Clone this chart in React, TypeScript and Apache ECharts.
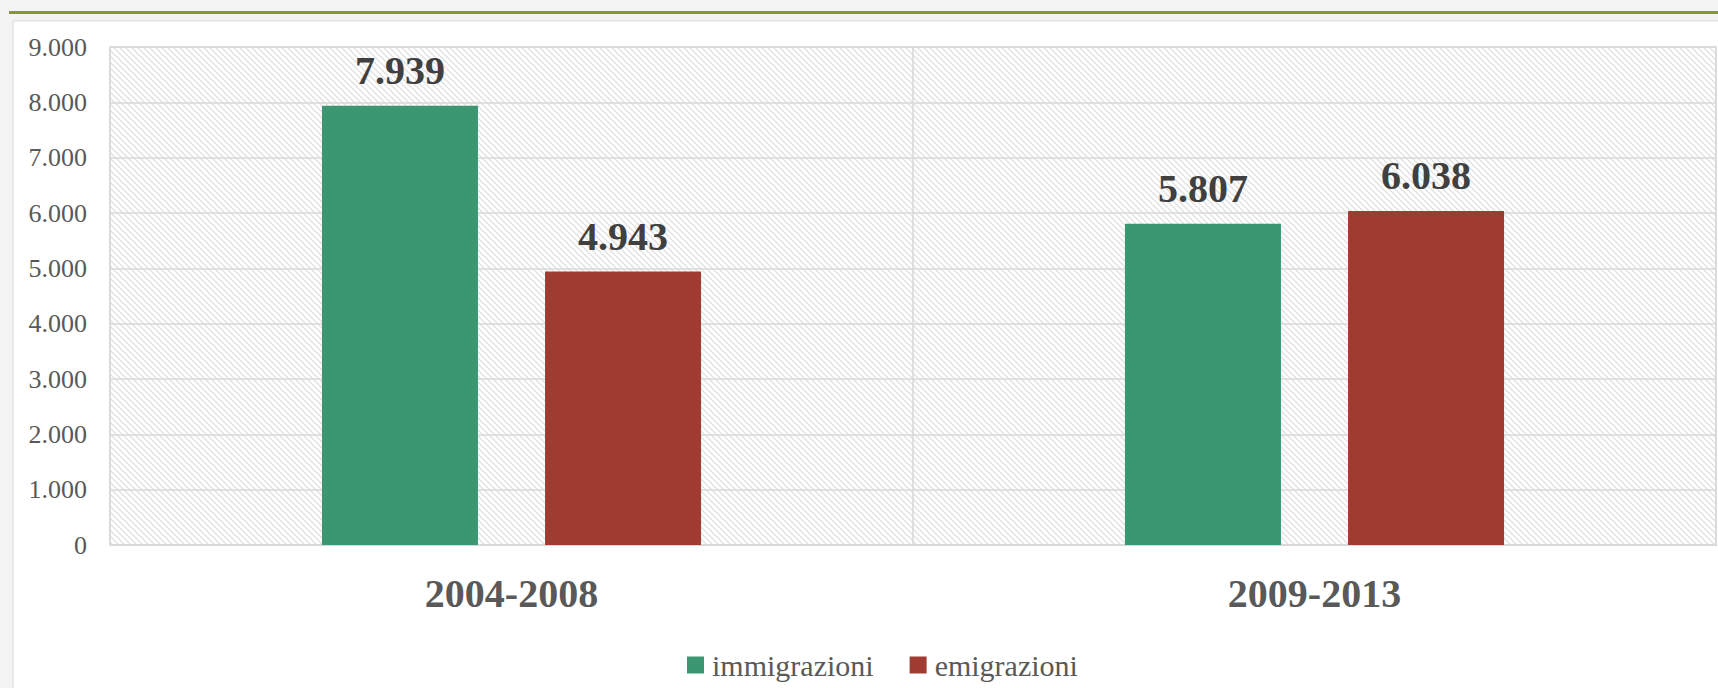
import React, { useEffect, useRef } from "react";
import * as echarts from "echarts";

const categories = ["2004-2008", "2009-2013"];
const immigrazioni = [7939, 5807];
const emigrazioni = [4943, 6038];
const seriesNames = ["immigrazioni", "emigrazioni"];
const yTicks = { min: 0, max: 9000, interval: 1000 };

const fmt = (v: number) => {
  const s = String(Math.round(v));
  return s.replace(/\B(?=(\d{3})+(?!\d))/g, ".");
};

function makeHatch(): HTMLCanvasElement {
  const n = 6;
  const c = document.createElement("canvas");
  c.width = n;
  c.height = n;
  const ctx = c.getContext("2d")!;
  ctx.fillStyle = "#ffffff";
  ctx.fillRect(0, 0, n, n);
  ctx.strokeStyle = "#e0e0e0";
  ctx.lineWidth = 1.3;
  ctx.beginPath();
  ctx.moveTo(-2, -2);
  ctx.lineTo(n + 2, n + 2);
  ctx.moveTo(-n - 2, -2);
  ctx.lineTo(2, n + 2);
  ctx.moveTo(n - 2, -2);
  ctx.lineTo(2 * n + 2, n + 2);
  ctx.stroke();
  return c;
}

export default function App() {
  const ref = useRef<HTMLDivElement>(null);
  useEffect(() => {
    if (!ref.current) return;
    const chart = echarts.init(ref.current, undefined, { renderer: "svg" });
    const hatch = makeHatch();
    const serif = "Liberation Serif, DejaVu Serif, serif";
    const dataLabel = {
      show: true,
      position: "top",
      distance: 15,
      fontFamily: serif,
      fontSize: 40,
      fontWeight: "bold",
      color: "#404040",
      formatter: (p: any) => fmt(p.value),
    };
    chart.setOption({
      animation: false,
      backgroundColor: "#f3f3f3",
      textStyle: { fontFamily: serif },
      graphic: [
        {
          type: "rect",
          z: -10,
          silent: true,
          shape: { x: 13, y: 21, width: 1720, height: 700 },
          style: { fill: "#ffffff", stroke: "#d9d9d9", lineWidth: 1 },
        },
        {
          type: "line",
          z: -10,
          silent: true,
          shape: { x1: 9, y1: 12.5, x2: 1718, y2: 12.5 },
          style: { stroke: "#849a2b", lineWidth: 3 },
        },
      ],
      grid: {
        left: 110,
        right: 2,
        top: 47,
        bottom: 143,
        show: true,
        backgroundColor: { image: hatch, repeat: "repeat", imageWidth: 6, imageHeight: 6 },
        borderColor: "#d9d9d9",
        borderWidth: 1.5,
      },
      legend: {
        left: 682,
        top: 645,
        itemWidth: 17,
        itemHeight: 17,
        itemGap: 36,
        icon: "rect",
        textStyle: { fontFamily: serif, fontSize: 30, color: "#595959", padding: [0, 0, 0, 3] },
        data: seriesNames,
      },
      xAxis: {
        type: "category",
        data: categories,
        axisLine: { lineStyle: { color: "#d9d9d9", width: 2 } },
        axisTick: { show: false },
        splitLine: { show: true, lineStyle: { color: "#d9d9d9", width: 1.5 } },
        axisLabel: {
          fontFamily: serif,
          fontSize: 40,
          fontWeight: "bold",
          color: "#595959",
          margin: 28,
        },
      },
      yAxis: {
        type: "value",
        min: yTicks.min,
        max: yTicks.max,
        interval: yTicks.interval,
        axisLine: { show: false },
        axisTick: { show: false },
        splitLine: { lineStyle: { color: "#d9d9d9", width: 1.5 } },
        axisLabel: {
          fontFamily: serif,
          fontSize: 26,
          color: "#595959",
          margin: 23,
          formatter: (v: number) => fmt(v),
        },
      },
      series: [
        {
          name: seriesNames[0],
          type: "bar",
          data: immigrazioni,
          barWidth: 156,
          barGap: "43%",
          itemStyle: { color: "#3c9671" },
          label: dataLabel,
        },
        {
          name: seriesNames[1],
          type: "bar",
          data: emigrazioni,
          barWidth: 156,
          itemStyle: { color: "#a03b32" },
          label: dataLabel,
        },
      ],
    });
    return () => chart.dispose();
  }, []);
  return (
    <div
      ref={ref}
      style={{ position: "fixed", left: 0, top: 0, width: 1718, height: 688 }}
    />
  );
}
